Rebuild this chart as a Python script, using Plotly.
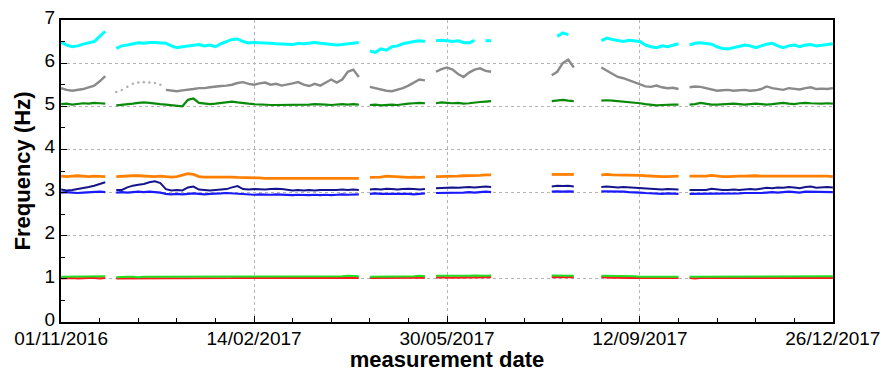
import plotly.graph_objects as go
import pandas as pd

N = None
# sampling grid: one reading every 3 days from 01/11/2016 (141 samples)
dates = pd.date_range("2016-11-01", periods=141, freq="3D")

# --- series values (Hz), None = no data ---
cyan = ([6.48, 6.42, 6.38, 6.40, 6.44, 6.47, 6.50, 6.62, 6.74] + [N] +
        [6.34, 6.40, 6.42, 6.45, 6.47, 6.46, 6.48, 6.48, 6.47, 6.46,
         6.40, 6.36, 6.38, 6.40, 6.42, 6.43, 6.40, 6.42, 6.38, 6.45,
         6.50, 6.55, 6.56, 6.50, 6.47, 6.48, 6.47, 6.47, 6.46, 6.45,
         6.45, 6.44, 6.43, 6.46, 6.45, 6.47, 6.48, 6.46, 6.45, 6.44,
         6.42, 6.43, 6.45, 6.46, 6.48] + [N] +
        [6.28, 6.25, 6.33, 6.30, 6.38, 6.40, 6.45, 6.48, 6.50, 6.52, 6.50] + [N] +
        [6.52, 6.53, 6.52, 6.50, 6.52, 6.48, 6.47, 6.53, N, 6.52, 6.52] + [N] * 10 +
        [N, 6.62, 6.70, 6.66, N] + [N] * 4 +
        [6.52, 6.58, 6.55, 6.52, 6.50, 6.53, 6.52, 6.50, 6.42, 6.38,
         6.36, 6.40, 6.38, 6.42, 6.45] + [N] +
        [6.42, 6.46, 6.47, 6.46, 6.44, 6.38, 6.34, 6.33, 6.36, 6.38,
         6.42, 6.40, 6.36, 6.40, 6.44, 6.46, 6.40, 6.36, 6.40, 6.42,
         6.38, 6.42, 6.43, 6.40, 6.42, 6.43, 6.45])

gray = ([5.42, 5.38, 5.36, 5.38, 5.40, 5.44, 5.48, 5.58, 5.70] + [N] +
        [N] * 9 +
        [5.38, 5.36, 5.35, 5.37, 5.38, 5.40, 5.42, 5.42, 5.44, 5.46,
         5.47, 5.48, 5.50, 5.54, 5.56, 5.52, 5.50, 5.53, 5.55, 5.50,
         5.52, 5.48, 5.50, 5.53, 5.56, 5.50, 5.47, 5.52, 5.48, 5.55,
         5.62, 5.55, 5.62, 5.80, 5.85, 5.68] + [N] +
        [5.45, 5.42, 5.38, 5.36, 5.35, 5.38, 5.42, 5.48, 5.55, 5.62, 5.60] + [N] +
        [5.80, 5.86, 5.90, 5.85, 5.75, 5.68, 5.78, 5.85, 5.88, 5.82, 5.80] + [N] * 10 +
        [5.72, 5.80, 6.00, 6.08, 5.90] + [N] * 4 +
        [5.90, 5.82, 5.75, 5.68, 5.65, 5.60, 5.55, 5.50, 5.46, 5.45,
         5.48, 5.44, 5.42, 5.43, 5.40] + [N] +
        [5.44, 5.46, 5.45, 5.42, 5.40, 5.36, 5.37, 5.38, 5.36, 5.37,
         5.38, 5.36, 5.37, 5.40, 5.46, 5.42, 5.40, 5.38, 5.42, 5.40,
         5.39, 5.42, 5.44, 5.40, 5.41, 5.40, 5.42])

gray_sparse = ([N] * 10 +
               [5.33, 5.38, 5.45, 5.52, 5.55, 5.56, 5.55, 5.54, 5.50] +
               [N] * 122)

green5 = ([5.05, 5.06, 5.04, 5.05, 5.07, 5.06, 5.08, 5.07, 5.06] + [N] +
          [5.02, 5.03, 5.04, 5.06, 5.08, 5.09, 5.08, 5.06, 5.05, 5.04,
           5.03, 5.02, 5.00, 5.15, 5.18, 5.08, 5.06, 5.05, 5.06, 5.08,
           5.10, 5.11, 5.09, 5.07, 5.06, 5.05, 5.04, 5.04, 5.03, 5.03,
           5.03, 5.04, 5.03, 5.04, 5.03, 5.04, 5.05, 5.05, 5.04, 5.03,
           5.04, 5.05, 5.04, 5.05, 5.04] + [N] +
          [5.03, 5.04, 5.02, 5.03, 5.04, 5.03, 5.05, 5.06, 5.07, 5.08, 5.07] + [N] +
          [5.07, 5.09, 5.08, 5.07, 5.08, 5.06, 5.07, 5.09, 5.10, 5.11, 5.12] + [N] * 10 +
          [5.12, 5.14, 5.15, 5.13, 5.12] + [N] * 4 +
          [5.13, 5.14, 5.13, 5.12, 5.11, 5.10, 5.08, 5.07, 5.05, 5.03,
           5.02, 5.03, 5.04, 5.04, 5.04] + [N] +
          [5.04, 5.05, 5.08, 5.06, 5.04, 5.04, 5.05, 5.05, 5.06, 5.05,
           5.04, 5.05, 5.06, 5.05, 5.04, 5.05, 5.06, 5.08, 5.06, 5.05,
           5.07, 5.08, 5.07, 5.06, 5.06, 5.07, 5.06])

orange = ([3.38, 3.37, 3.38, 3.39, 3.38, 3.37, 3.38, 3.38, 3.37] + [N] +
          [3.37, 3.38, 3.38, 3.39, 3.39, 3.38, 3.38, 3.37, 3.38, 3.37,
           3.36, 3.37, 3.40, 3.44, 3.42, 3.37, 3.36, 3.36, 3.37, 3.37,
           3.36, 3.36, 3.35, 3.35, 3.34, 3.34, 3.34, 3.33, 3.33, 3.33,
           3.34, 3.33, 3.33, 3.34, 3.34, 3.33, 3.33, 3.33, 3.34, 3.33,
           3.33, 3.34, 3.33, 3.34, 3.33] + [N] +
          [3.35, 3.35, 3.36, 3.38, 3.37, 3.36, 3.35, 3.35, 3.36, 3.35, 3.36] + [N] +
          [3.37, 3.37, 3.38, 3.38, 3.38, 3.39, 3.39, 3.40, 3.40, 3.41, 3.41] + [N] * 10 +
          [3.42, 3.42, 3.43, 3.42, 3.42] + [N] * 4 +
          [3.41, 3.42, 3.41, 3.41, 3.41, 3.40, 3.40, 3.40, 3.39, 3.38,
           3.37, 3.37, 3.37, 3.38, 3.38] + [N] +
          [3.38, 3.38, 3.38, 3.38, 3.40, 3.38, 3.37, 3.37, 3.38, 3.38,
           3.38, 3.39, 3.39, 3.38, 3.38, 3.38, 3.39, 3.39, 3.38, 3.38,
           3.39, 3.38, 3.38, 3.39, 3.38, 3.38, 3.37])

navy = ([3.07, 3.05, 3.06, 3.08, 3.10, 3.13, 3.16, 3.20, 3.24] + [N] +
        [3.06, 3.06, 3.12, 3.16, 3.18, 3.20, 3.24, 3.26, 3.22, 3.08,
         3.05, 3.06, 3.05, 3.12, 3.14, 3.07, 3.06, 3.05, 3.06, 3.07,
         3.08, 3.12, 3.15, 3.08, 3.07, 3.08, 3.07, 3.07, 3.08, 3.09,
         3.08, 3.06, 3.05, 3.06, 3.05, 3.06, 3.05, 3.06, 3.06, 3.05,
         3.06, 3.07, 3.06, 3.07, 3.06] + [N] +
        [3.07, 3.08, 3.07, 3.09, 3.08, 3.07, 3.08, 3.09, 3.08, 3.07, 3.08] + [N] +
        [3.10, 3.11, 3.12, 3.12, 3.11, 3.12, 3.13, 3.12, 3.13, 3.14, 3.13] + [N] * 10 +
        [3.14, 3.16, 3.15, 3.16, 3.14] + [N] * 4 +
        [3.13, 3.14, 3.13, 3.12, 3.13, 3.12, 3.11, 3.10, 3.09, 3.08,
         3.07, 3.07, 3.08, 3.07, 3.07] + [N] +
        [3.06, 3.06, 3.07, 3.06, 3.09, 3.07, 3.06, 3.06, 3.07, 3.06,
         3.07, 3.08, 3.07, 3.09, 3.11, 3.10, 3.12, 3.11, 3.13, 3.12,
         3.10, 3.13, 3.14, 3.11, 3.12, 3.13, 3.12])

blue = ([3.00, 3.01, 3.00, 2.99, 3.00, 3.01, 3.02, 3.02, 3.01] + [N] +
        [3.00, 3.01, 3.00, 3.01, 3.02, 3.01, 3.02, 3.01, 3.00, 2.97,
         2.96, 2.97, 2.96, 2.97, 2.98, 2.97, 2.96, 2.97, 2.97, 2.98,
         2.99, 2.98, 2.97, 2.96, 2.96, 2.95, 2.96, 2.95, 2.95, 2.96,
         2.95, 2.94, 2.94, 2.95, 2.94, 2.94, 2.95, 2.94, 2.95, 2.94,
         2.95, 2.96, 2.95, 2.95, 2.96] + [N] +
        [2.97, 2.98, 2.97, 2.97, 2.98, 2.97, 2.98, 2.97, 2.96, 2.97, 2.98] + [N] +
        [2.99, 2.99, 3.00, 3.00, 2.99, 3.00, 3.01, 3.00, 3.01, 3.02, 3.01] + [N] * 10 +
        [3.02, 3.03, 3.02, 3.03, 3.02] + [N] * 4 +
        [3.03, 3.03, 3.02, 3.02, 3.02, 3.01, 3.01, 3.00, 2.99, 2.98,
         2.98, 2.97, 2.98, 2.97, 2.97] + [N] +
        [2.97, 2.97, 2.98, 2.97, 2.98, 2.98, 2.97, 2.97, 2.98, 2.98,
         2.99, 2.99, 2.98, 2.99, 3.00, 3.01, 3.00, 3.01, 3.02, 3.01,
         3.00, 3.02, 3.02, 3.01, 3.01, 3.02, 3.01])

green1 = ([1.05, 1.05, 1.06, 1.05, 1.05, 1.06, 1.05, 1.05, 1.06] + [N] +
          [1.04, 1.05, 1.05, 1.05, 1.04, 1.05, 1.05, 1.05, 1.05, 1.05,
           1.05, 1.05, 1.05, 1.05, 1.06, 1.05, 1.05, 1.05, 1.05, 1.05,
           1.05, 1.05, 1.05, 1.06, 1.06, 1.05, 1.06, 1.06, 1.05, 1.06,
           1.06, 1.06, 1.05, 1.06, 1.06, 1.06, 1.05, 1.06, 1.06, 1.06,
           1.06, 1.06, 1.07, 1.06, 1.06] + [N] +
          [1.05, 1.05, 1.05, 1.06, 1.05, 1.05, 1.06, 1.06, 1.06, 1.07, 1.06] + [N] +
          [1.07, 1.07, 1.06, 1.07, 1.07, 1.07, 1.07, 1.08, 1.07, 1.07, 1.08] + [N] * 10 +
          [1.08, 1.08, 1.08, 1.07, 1.07] + [N] * 4 +
          [1.07, 1.07, 1.06, 1.06, 1.06, 1.06, 1.06, 1.05, 1.05, 1.05,
           1.05, 1.05, 1.05, 1.05, 1.05] + [N] +
          [1.05, 1.05, 1.05, 1.06, 1.05, 1.05, 1.05, 1.05, 1.05, 1.06,
           1.05, 1.05, 1.05, 1.05, 1.06, 1.05, 1.05, 1.05, 1.06, 1.05,
           1.05, 1.06, 1.05, 1.05, 1.06, 1.06, 1.06])

red = ([1.01, 1.02, 1.02, 1.01, 1.02, 1.02, 1.02, 1.01, 1.02] + [N] +
       [1.01, 1.01, 1.02, 1.02, 1.01, 1.01, 1.02, 1.02, 1.01, 1.01,
        1.02, 1.01, 1.01, 1.02, 1.02, 1.01, 1.02, 1.02, 1.02, 1.02,
        1.02, 1.02, 1.03, 1.02, 1.02, 1.02, 1.03, 1.02, 1.02, 1.03,
        1.03, 1.02, 1.02, 1.03, 1.02, 1.03, 1.02, 1.02, 1.03, 1.02,
        1.03, 1.02, 1.03, 1.03, 1.02] + [N] +
       [1.02, 1.02, 1.02, 1.03, 1.02, 1.02, 1.03, 1.03, 1.02, 1.03, 1.03] + [N] +
       [1.03, 1.04, 1.03, 1.03, 1.04, 1.03, 1.04, 1.04, 1.03, 1.04, 1.04] + [N] * 10 +
       [1.04, 1.04, 1.05, 1.04, 1.04] + [N] * 4 +
       [1.04, 1.03, 1.03, 1.03, 1.02, 1.02, 1.02, 1.02, 1.01, 1.02,
        1.01, 1.02, 1.01, 1.02, 1.02] + [N] +
       [1.02, 1.01, 1.02, 1.02, 1.01, 1.02, 1.02, 1.02, 1.01, 1.02,
        1.02, 1.02, 1.01, 1.02, 1.02, 1.02, 1.02, 1.01, 1.02, 1.02,
        1.02, 1.02, 1.02, 1.02, 1.02, 1.02, 1.02])

series = [
    ("cyan", cyan, "#00FFFF", 3.0),
    ("gray", gray, "#8a8a8a", 2.4),
    ("green5", green5, "#0a8a0a", 2.2),
    ("orange", orange, "#FF8000", 2.8),
    ("blue", blue, "#1a1aff", 2.2),
    ("navy", navy, "#14148c", 2.0),
    ("red", red, "#FF1a1a", 2.2),
    ("green1", green1, "#22dd22", 2.0),
]

fig = go.Figure()
for name, vals, color, w in series:
    fig.add_trace(go.Scatter(x=dates, y=vals, mode="lines", name=name,
                             line=dict(color=color, width=w), connectgaps=False))
fig.add_trace(go.Scatter(x=dates, y=gray_sparse, mode="markers", name="gray_sparse",
                         marker=dict(color="#b0b0b0", size=2.5)))

DAY = 86400000
font = "Liberation Sans, Arial, sans-serif"
fig.update_layout(
    width=882, height=372,
    margin=dict(l=61, r=49, t=20, b=50),
    paper_bgcolor="white", plot_bgcolor="white",
    showlegend=False,
    font=dict(family=font, color="black"),
    xaxis=dict(
        type="date", automargin=False,
        range=["2016-10-31 22:00", "2017-12-26 02:00"],
        tick0="2016-11-01", dtick=105 * DAY, tickformat="%d/%m/%Y",
        ticks="inside", ticklen=6, tickcolor="black", ticklabelstandoff=-2,
        minor=dict(tick0="2016-11-01", dtick=21 * DAY, ticks="inside", ticklen=4,
                   tickcolor="black", showgrid=False),
        showgrid=True, gridcolor="#b5b5b5", griddash="dot", gridwidth=1,
        showline=True, linecolor="black", linewidth=2, mirror=True,
        tickfont=dict(size=19, family=font),
        title=dict(text="<b>measurement date</b>", font=dict(size=22, family=font), standoff=0),
        zeroline=False,
    ),
    yaxis=dict(
        automargin=False,
        range=[0, 7], dtick=1, tick0=0,
        ticks="inside", ticklen=6, tickcolor="black", ticklabelshift=-3,
        minor=dict(dtick=0.5, ticks="inside", ticklen=4, tickcolor="black", showgrid=False),
        showgrid=True, gridcolor="#b5b5b5", griddash="dot", gridwidth=1,
        showline=True, linecolor="black", linewidth=2, mirror=True,
        tickfont=dict(size=19, family=font),
        title=dict(text="<b>Frequency (Hz)</b>", font=dict(size=22, family=font), standoff=8),
        zeroline=False,
    ),
)

fig.write_html("out.html")
